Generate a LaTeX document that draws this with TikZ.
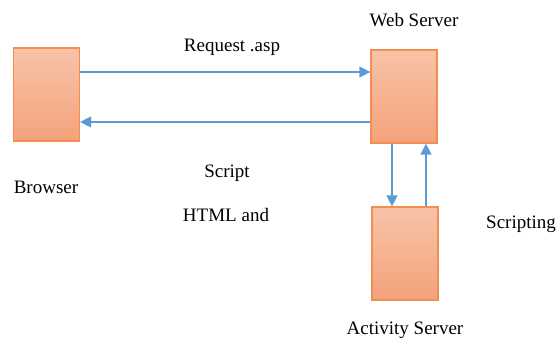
\documentclass[tikz,border=0pt]{standalone}
\usepackage{fontspec}
\setmainfont{Liberation Serif}
\usetikzlibrary{arrows.meta}
\definecolor{boxtop}{HTML}{F8C3A8}
\definecolor{boxbot}{HTML}{F4A27B}
\definecolor{boxline}{HTML}{F28E50}
\definecolor{link}{HTML}{5B9BD5}
\tikzset{
  server/.style={draw=boxline, line width=1.2pt, top color=boxtop, bottom color=boxbot,
    minimum width=66pt, minimum height=93pt, inner sep=0pt},
  flow/.style={draw=link, line width=1.3pt, -{Triangle[length=11pt,width=11pt]}},
  lbl/.style={font=\fontsize{19}{22}\selectfont, inner sep=0pt}
}
\begin{document}
\begin{tikzpicture}[x=1pt,y=-1pt]
  \useasboundingbox (0,0) rectangle (557,341);
  % boxes
  \node[server] (browser) at (46.5,94.5) {};
  \node[server] (web) at (404,96.5) {};
  \node[server] (act) at (405,253.5) {};
  % labels
  \node[lbl] (tbrowser) at (46,187) {Browser};
  \node[lbl] (tweb) at (414,20) {Web Server};
  \node[lbl] (tact) at (405,330) {Activity Server};
  \node[lbl] (treq) at (232,47) {Request .asp};
  \node[lbl] (tscript) at (227,173) {Script};
  \node[lbl] (thtml) at (226,215) {HTML and};
  \node[lbl, anchor=west] (tscripting) at (486,224) {Scripting};
  % connectors
  \draw[flow] (browser.east |- 0,72) -- (web.west |- 0,72);
  \draw[flow] (web.west |- 0,122) -- (browser.east |- 0,122);
  \draw[flow] (web.south -| 392,0) -- (act.north -| 392,0);
  \draw[flow] (act.north -| 426,0) -- (web.south -| 426,0);
\end{tikzpicture}
\end{document}
